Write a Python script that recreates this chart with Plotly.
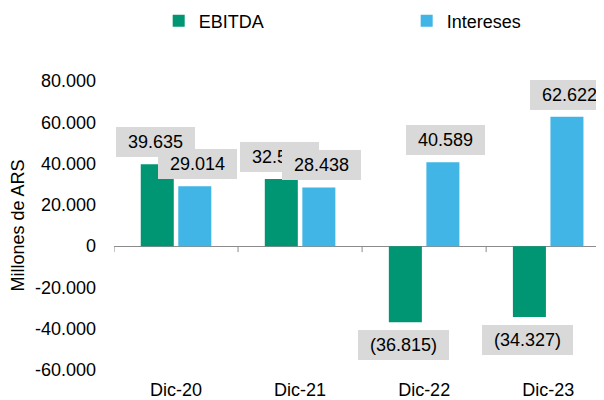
import plotly.graph_objects as go

# ---- data ----
categories = ["Dic-20", "Dic-21", "Dic-22", "Dic-23"]
ebitda = [39635, 32548, -36815, -34327]
intereses = [29014, 28438, 40589, 62622]
y_tick_values = [-60000, -40000, -20000, 0, 20000, 40000, 60000, 80000]
y_tick_labels = ["-60.000", "-40.000", "-20.000", "0", "20.000", "40.000", "60.000", "80.000"]
series_names = ["EBITDA", "Intereses"]

# ---- style ----
GREEN = "#009673"
BLUE = "#41B6E6"
LABEL_BG = "#D9D9D9"
AXIS_GRAY = "#8C8C8C"
FONT = "Liberation Sans, Arial, sans-serif"
FS = 18
BAR_OFFSET_PX = 21
PAGE_OFFSET = 8  # default body margin of the html page

ARIAL_W = {str(d): 0.556 for d in range(10)}
ARIAL_W.update({".": 0.278, "(": 0.333, ")": 0.333, "-": 0.333})


def fmt(v):
    s = f"{abs(v):,}".replace(",", ".")
    return f"({s})" if v < 0 else s


def text_width(s):
    return sum(ARIAL_W.get(c, 0.556) for c in s) * FS


fig = go.Figure()
fig.add_trace(go.Bar(x=categories, y=ebitda, name=series_names[0], legend="legend",
                     marker=dict(color=GREEN, line=dict(width=0))))
fig.add_trace(go.Bar(x=categories, y=intereses, name=series_names[1], legend="legend2",
                     marker=dict(color=BLUE, line=dict(width=0))))

annotations = []
for vals, shift in ((ebitda, -BAR_OFFSET_PX), (intereses, BAR_OFFSET_PX)):
    for cat, v in zip(categories, vals):
        label = fmt(v)
        annotations.append(dict(
            x=cat, y=v, xref="x", yref="y", text=label, showarrow=False,
            xshift=shift, yshift=7 if v >= 0 else -8,
            yanchor="bottom" if v >= 0 else "top", xanchor="center",
            bgcolor=LABEL_BG, borderpad=0, borderwidth=0,
            width=text_width(label) + 24, height=30,
            font=dict(family=FONT, size=FS, color="#000000"),
        ))

shapes = []
for k in range(len(categories)):
    shapes.append(dict(type="line", xref="x", yref="y", x0=k - 0.5, x1=k - 0.5,
                       ysizemode="pixel", yanchor=0, y0=0, y1=-6,
                       line=dict(color=AXIS_GRAY, width=1)))

legend_common = dict(orientation="h", xanchor="left", y=1.2076, yanchor="middle",
                     itemwidth=30, font=dict(family=FONT, size=FS, color="#000000"),
                     bgcolor="rgba(0,0,0,0)")

fig.update_layout(
    width=604 - PAGE_OFFSET, height=400 - PAGE_OFFSET,
    margin=dict(l=114 - PAGE_OFFSET, r=0, t=81 - PAGE_OFFSET, b=30, autoexpand=False),
    paper_bgcolor="white", plot_bgcolor="white",
    font=dict(family=FONT, size=FS, color="#000000"),
    barmode="group", bargap=0.395, bargroupgap=0.12,
    annotations=annotations, shapes=shapes,
    legend=dict(x=0.0912, **legend_common),
    legend2=dict(x=0.5973, **legend_common),
    showlegend=True,
)
fig.update_xaxes(range=[-0.5, 3.45], showline=False, showgrid=False, ticks="",
                 automargin=False, ticklabelstandoff=7,
                 tickfont=dict(family=FONT, size=FS, color="#000000"))
fig.update_yaxes(range=[-60000, 80000], tickvals=y_tick_values, ticktext=y_tick_labels,
                 showgrid=False, showline=False, ticks="", zeroline=True, automargin=False,
                 zerolinecolor=AXIS_GRAY, zerolinewidth=1, ticklabelstandoff=17,
                 tickfont=dict(family=FONT, size=FS, color="#000000"),
                 title=dict(text="Millones de ARS", standoff=8,
                            font=dict(family=FONT, size=FS, color="#000000")))

fig.write_html("out.html")
